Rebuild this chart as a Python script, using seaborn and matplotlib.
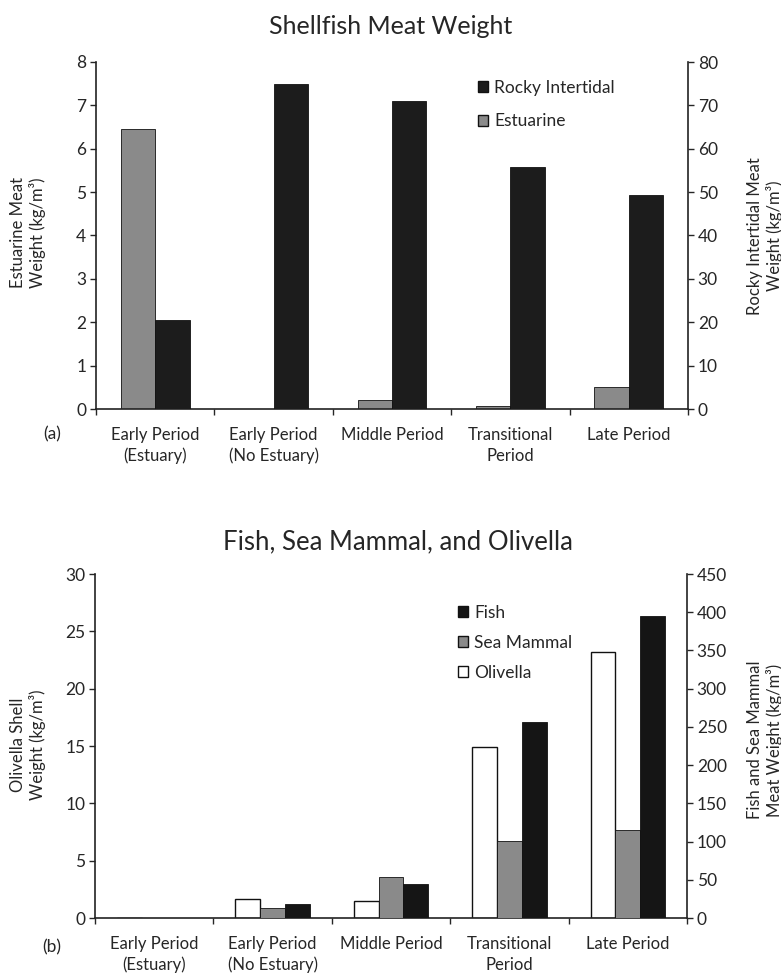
import pandas as pd
import matplotlib
matplotlib.use("Agg")
import matplotlib.pyplot as plt
import seaborn as sns
from matplotlib.patches import Patch

# -------------------------------
# Data
# -------------------------------
periods = ["Early Period\n(Estuary)", "Early Period\n(No Estuary)", "Middle Period",
           "Transitional\nPeriod", "Late Period"]

# (a) shellfish meat weight, kg/m3
estuarine = [6.45, 0.0, 0.2, 0.07, 0.5]          # left axis
rocky_intertidal = [20.5, 75.0, 71.0, 55.8, 49.3]  # right axis

# (b) fish, sea mammal, olivella, kg/m3
olivella = [0.0, 1.65, 1.45, 14.9, 23.2]          # left axis
sea_mammal = [0.0, 12.5, 53.0, 101.0, 115.0]      # right axis
fish = [0.0, 18.0, 44.5, 257.0, 395.0]            # right axis

colors = {"Estuarine": "#8a8a8a", "Rocky Intertidal": "#1c1c1c",
          "Olivella": "#ffffff", "Sea Mammal": "#8a8a8a", "Fish": "#151515"}

top = pd.DataFrame({"period": periods * 2,
                    "value": estuarine + rocky_intertidal,
                    "series": ["Estuarine"] * 5 + ["Rocky Intertidal"] * 5})
bot = pd.DataFrame({"period": periods * 3,
                    "value": olivella + sea_mammal + fish,
                    "series": ["Olivella"] * 5 + ["Sea Mammal"] * 5 + ["Fish"] * 5})

# -------------------------------
# Style
# -------------------------------
sns.set_style("ticks")
plt.rcParams["font.family"] = ["Lato", "DejaVu Sans"]
plt.rcParams["font.size"] = 12

fig = plt.figure(figsize=(7.81, 9.8), dpi=100)
W, H = 781, 980


def px_axes(x0, y0, x1, y1):
    return fig.add_axes([x0 / W, 1 - y1 / H, (x1 - x0) / W, (y1 - y0) / H])


def style_pair(ax, ax2, ylim_l, yticks_l, ylim_r, yticks_r):
    ax.set_ylim(*ylim_l)
    ax.set_yticks(yticks_l)
    ax2.set_ylim(*ylim_r)
    ax2.set_yticks(yticks_r)
    ax.set_xlim(-0.5, 4.5)
    ax.set_xlabel("")
    ax.set_ylabel("")
    ax2.set_xlabel("")
    ax2.set_ylabel("")
    ax.spines["top"].set_visible(False)
    ax2.spines["top"].set_visible(False)
    ax.spines["right"].set_visible(False)
    ax2.spines["left"].set_visible(False)
    ax2.spines["bottom"].set_visible(False)
    for sp in [ax.spines["left"], ax.spines["bottom"], ax2.spines["right"]]:
        sp.set_color("#222222")
        sp.set_linewidth(1.2)
    ax.tick_params(axis="y", direction="out", length=4, width=1, labelsize=12.5, pad=3)
    ax2.tick_params(axis="y", direction="out", length=4, width=1, labelsize=12.5, pad=3)
    ax.set_xticks(range(5))
    ax.set_xticklabels(periods, fontsize=12, linespacing=1.35)
    ax.tick_params(axis="x", which="major", length=0, pad=13)
    ax.set_xticks([i - 0.5 for i in range(6)], minor=True)
    ax.tick_params(axis="x", which="minor", direction="out", length=4, width=1)
    ax2.tick_params(axis="x", which="both", length=0, labelbottom=False)


# -------------------------------
# (a) Shellfish Meat Weight
# -------------------------------
ax = px_axes(96, 62, 688, 409)
ax2 = ax.twinx()
order_a = ["Estuarine", "Rocky Intertidal"]
sns.barplot(data=top[top.series == "Estuarine"], x="period", y="value", hue="series",
            hue_order=order_a, order=periods, palette=colors, width=0.58, dodge=True,
            edgecolor="#111111", linewidth=0.6, legend=False, ax=ax)
sns.barplot(data=top[top.series == "Rocky Intertidal"], x="period", y="value", hue="series",
            hue_order=order_a, order=periods, palette=colors, width=0.58, dodge=True,
            edgecolor="#111111", linewidth=0.6, legend=False, ax=ax2)
style_pair(ax, ax2, (0, 8), range(0, 9), (0, 80), range(0, 81, 10))

fig.text(0.5, 1 - 26 / H, "Shellfish Meat Weight", ha="center", va="center", fontsize=18)
fig.text(28 / W, 1 - 233 / H, "Estuarine Meat\nWeight (kg/m³)", rotation=90,
         ha="center", va="center", fontsize=12, multialignment="center")
fig.text(765 / W, 1 - 236 / H, "Rocky Intertidal Meat\nWeight (kg/m³)", rotation=90,
         ha="center", va="center", fontsize=12, multialignment="center")
fig.text(52 / W, 1 - 434 / H, "(a)", ha="center", va="center", fontsize=12.5)

fig.legend(handles=[Patch(facecolor=colors["Rocky Intertidal"], edgecolor="#111111", label="Rocky Intertidal"),
                    Patch(facecolor=colors["Estuarine"], edgecolor="#111111", label="Estuarine")],
           loc="upper left", bbox_to_anchor=(478 / W, 1 - 80 / H), frameon=False,
           handlelength=0.6, handleheight=0.6, handletextpad=0.35, labelspacing=1.0,
           borderpad=0, borderaxespad=0, fontsize=12.5)

# -------------------------------
# (b) Fish, Sea Mammal, and Olivella
# -------------------------------
bx = px_axes(95, 574, 687, 918)
bx2 = bx.twinx()
order_b = ["Olivella", "Sea Mammal", "Fish"]
sns.barplot(data=bot[bot.series == "Olivella"], x="period", y="value", hue="series",
            hue_order=order_b, order=periods, palette=colors, width=0.63, dodge=True,
            edgecolor="#111111", linewidth=1.0, legend=False, ax=bx)
sns.barplot(data=bot[bot.series != "Olivella"], x="period", y="value", hue="series",
            hue_order=order_b, order=periods, palette=colors, width=0.63, dodge=True,
            edgecolor="#111111", linewidth=0.6, legend=False, ax=bx2)
style_pair(bx, bx2, (0, 30), range(0, 31, 5), (0, 450), range(0, 451, 50))

fig.text(0.51, 1 - 542 / H, "Fish, Sea Mammal, and Olivella", ha="center", va="center", fontsize=18.5)
fig.text(28 / W, 1 - 745 / H, "Olivella Shell\nWeight (kg/m³)", rotation=90,
         ha="center", va="center", fontsize=12, multialignment="center")
fig.text(765 / W, 1 - 740 / H, "Fish and Sea Mammal\nMeat Weight (kg/m³)", rotation=90,
         ha="center", va="center", fontsize=12, multialignment="center")
fig.text(52 / W, 1 - 947 / H, "(b)", ha="center", va="center", fontsize=12.5)

fig.legend(handles=[Patch(facecolor=colors["Fish"], edgecolor="#111111", label="Fish"),
                    Patch(facecolor=colors["Sea Mammal"], edgecolor="#111111", label="Sea Mammal"),
                    Patch(facecolor=colors["Olivella"], edgecolor="#111111", label="Olivella")],
           loc="upper left", bbox_to_anchor=(458 / W, 1 - 605 / H), frameon=False,
           handlelength=0.6, handleheight=0.6, handletextpad=0.35, labelspacing=0.8,
           borderpad=0, borderaxespad=0, fontsize=12.5)

fig.savefig("out.png", dpi=100)
plt.close(fig)
